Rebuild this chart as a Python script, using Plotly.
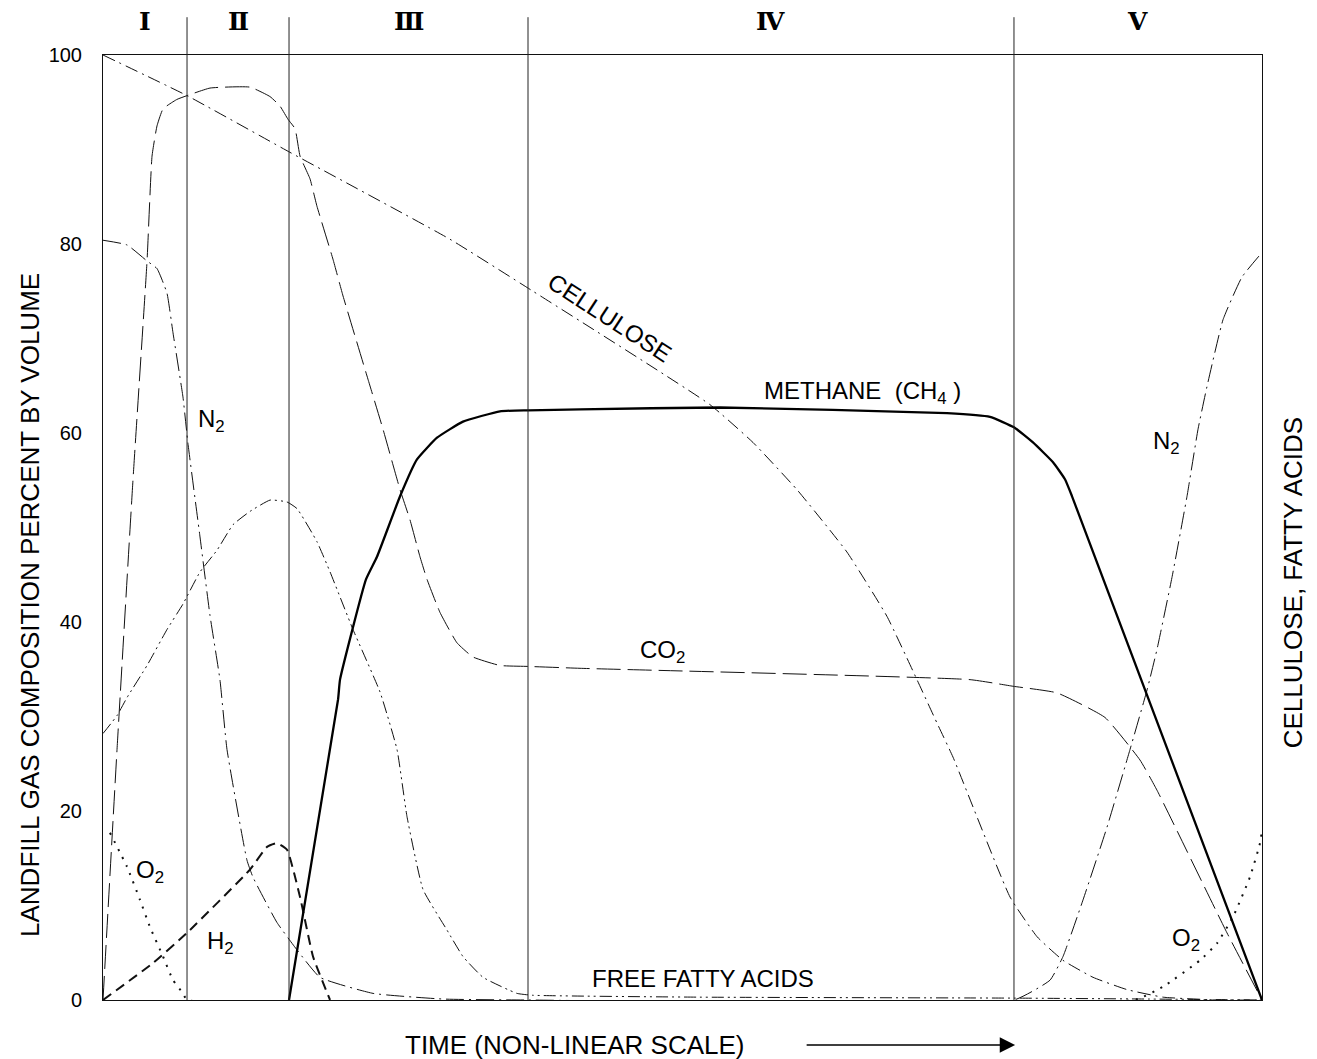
import plotly.graph_objects as go

# ---------------- data (time axis in arbitrary non-linear units 0..100) ----------------
phase_bounds = [7.25, 16.05, 36.67, 78.60]
phase_names = ["Ⅰ", "Ⅱ", "Ⅲ", "Ⅳ", "Ⅴ"]
y_ticks = [0, 20, 40, 60, 80, 100]

methane_x = [16.05, 20.28, 20.45, 22.69, 23.64, 25.63, 27.09, 28.82, 31.06, 34.25, 36.67,
             41.16, 53.24, 72.82, 76.53, 78.60, 80.24, 81.97, 83.00, 83.61, 100.0]
methane_y = [0.0, 31.8, 33.9, 44.5, 46.9, 53.3, 57.2, 59.5, 61.2, 62.3, 62.4,
             62.5, 62.7, 62.1, 61.7, 60.6, 59.0, 56.9, 55.1, 53.3, 0.0]

co2_x = [0.0, 1.21, 2.59, 3.80, 4.23, 4.66, 5.18, 6.38, 7.25, 9.23, 12.68, 14.41, 15.27,
         15.96, 16.57, 17.00, 17.86, 18.46, 19.84, 20.71, 22.86, 24.16, 25.63, 26.49, 27.35,
         27.96, 29.08, 30.54, 31.92, 34.25, 36.67, 41.16, 74.81, 78.52, 82.31, 86.45, 89.47,
         90.94, 96.98, 100.0]
co2_y = [0.0, 26.5, 55.1, 78.2, 89.3, 92.5, 94.3, 95.3, 95.7, 96.5, 96.6, 95.6, 94.6,
         93.2, 92.2, 89.3, 86.9, 84.0, 78.4, 74.5, 65.7, 60.4, 54.0, 50.8, 46.9,
         44.5, 41.0, 37.8, 36.3, 35.4, 35.3, 35.1, 33.9, 33.2, 32.5, 29.9, 25.4,
         22.2, 7.1, 0.0]

n2_x = [0.0, 2.07, 3.80, 4.66, 5.52, 6.04, 6.90, 7.33, 8.37, 9.23, 10.09, 10.70, 12.42,
        12.94, 15.01, 16.74, 18.72, 23.30, 29.34, 36.67, 78.60, 81.71, 82.83, 84.56, 86.63,
        88.61, 90.08, 90.94, 92.23, 93.53, 94.48, 95.25, 96.64, 98.27, 100.0]
n2_y = [80.4, 79.9, 78.2, 77.4, 74.8, 70.6, 63.8, 58.9, 49.0, 40.7, 33.9, 26.5, 14.8,
        13.0, 8.2, 5.3, 2.4, 0.7, 0.1, 0.0, 0.0, 2.1, 4.6, 10.6, 18.3,
        26.5, 32.8, 37.1, 44.7, 53.3, 60.4, 64.9, 72.0, 76.5, 79.1]

o2_x = [0.60, 2.07, 3.19, 4.06, 5.18, 6.04, 6.90, 7.25, 89.0, 91.46, 94.65, 96.12, 97.50,
        98.96, 99.83, 100.0]
o2_y = [17.7, 14.1, 10.6, 7.7, 4.6, 2.1, 0.7, 0.0, 0.0, 1.4, 4.2, 6.0, 8.8,
        13.0, 16.6, 18.0]

h2_x = [0.0, 4.31, 7.25, 12.68, 14.15, 15.01, 15.88, 17.00, 18.12, 19.59]
h2_y = [0.0, 3.9, 7.1, 13.8, 16.2, 16.6, 15.9, 10.9, 4.6, 0.0]

cellulose_x = [0.0, 7.25, 16.13, 29.94, 37.10, 52.37, 56.08, 59.88, 64.19, 67.64, 70.23,
               71.96, 73.34, 78.26, 80.59, 82.83, 85.42, 88.35, 91.46, 96.12, 100.0]
cellulose_y = [100.0, 95.7, 89.7, 80.5, 75.0, 63.0, 59.0, 54.0, 47.4, 40.6, 33.9,
               29.3, 25.7, 10.9, 6.7, 4.2, 2.4, 1.1, 0.3, 0.0, 0.0]

ffa_x = [0.0, 1.21, 2.07, 3.80, 5.52, 6.90, 8.37, 9.84, 11.22, 12.68, 14.41, 15.88, 16.74,
         18.46, 19.59, 21.57, 23.90, 25.37, 26.23, 27.61, 29.68, 31.06, 32.79, 35.72, 37.10,
         51.51, 78.60, 90.3, 100.0]
ffa_y = [28.2, 30.1, 32.0, 35.4, 39.2, 41.9, 45.3, 47.6, 50.3, 51.7, 52.9, 52.7, 52.0,
         48.5, 45.3, 39.2, 32.6, 26.5, 19.4, 11.7, 7.4, 4.6, 2.4, 0.7, 0.5,
         0.3, 0.2, 0.1, 0.0]

# curve labels
label_text = ["N<sub>2</sub>", "O<sub>2</sub>", "H<sub>2</sub>", "CO<sub>2</sub>", "CELLULOSE",
              "METHANE\u00a0\u00a0(CH<sub>4</sub>\u00a0)", "FREE FATTY ACIDS", "N<sub>2</sub>",
              "O<sub>2</sub>"]
label_x = [9.40, 4.06, 10.18, 48.3, 43.7, 65.5, 51.8, 91.8, 93.4]
label_y = [61.3, 13.6, 6.1, 36.9, 72.2, 64.3, 2.3, 59.0, 6.4]
label_angle = [0, 0, 0, 0, 33, 0, 0, 0, 0]

# ---------------- figure ----------------
SANS = "Liberation Sans, Arial, sans-serif"
fig = go.Figure()


def add_line(x, y, dash, width=1.0, color="#111111"):
    fig.add_trace(go.Scatter(x=x, y=y, mode="lines", hoverinfo="skip",
                             line=dict(color=color, width=width, dash=dash, shape="spline",
                                       smoothing=0.4)))


add_line(cellulose_x, cellulose_y, "13px,5px,2px,5px")
add_line(ffa_x, ffa_y, "12px,4px,2px,4px,2px,4px")
add_line(co2_x, co2_y, "24px,7px")
add_line(n2_x, n2_y, "18px,5px,2px,5px")
add_line(o2_x, o2_y, "2px,7px", width=2.0)
add_line(h2_x, h2_y, "10px,6px", width=2.0)
fig.add_trace(go.Scatter(x=methane_x, y=methane_y, mode="lines", hoverinfo="skip",
                         line=dict(color="#000000", width=2.3, shape="spline", smoothing=0.4)))

# phase boundary lines (extend above the plot into the header strip)
for b in phase_bounds:
    fig.add_shape(type="line", xref="x", yref="paper", x0=b, x1=b, y0=0, y1=1.040,
                  line=dict(color="#222222", width=1))

edges = [0.0] + phase_bounds + [100.0]
for i, name in enumerate(phase_names):
    fig.add_annotation(x=(edges[i] + edges[i + 1]) / 2, y=1.035, xref="x", yref="paper",
                       xanchor="center", yanchor="middle",
                       text="<b>" + name + "</b>", showarrow=False,
                       font=dict(family="DejaVu Serif, Liberation Serif, serif", size=25,
                                 color="#000000"))

for t, x, y, a in zip(label_text, label_x, label_y, label_angle):
    fig.add_annotation(x=x, y=y, xref="x", yref="y", text=t, showarrow=False, textangle=a,
                       xanchor="center", yanchor="middle",
                       font=dict(family=SANS, size=24, color="#000000"))

# axis titles
fig.add_annotation(x=-0.063, y=0.418, xref="paper", yref="paper", textangle=-90,
                   xanchor="center", yanchor="middle",
                   text="LANDFILL GAS COMPOSITION PERCENT BY VOLUME", showarrow=False,
                   font=dict(family=SANS, size=26, color="#000000"))
fig.add_annotation(x=1.0267, y=0.442, xref="paper", yref="paper", textangle=-90,
                   xanchor="center", yanchor="middle",
                   text="CELLULOSE, FATTY ACIDS", showarrow=False,
                   font=dict(family=SANS, size=26, color="#000000"))
fig.add_annotation(x=0.407, y=-0.0476, xref="paper", yref="paper",
                   xanchor="center", yanchor="middle",
                   text="TIME (NON-LINEAR SCALE)", showarrow=False,
                   font=dict(family=SANS, size=26, color="#000000"))
fig.add_annotation(x=0.787, y=-0.0476, xref="paper", yref="paper", axref="pixel",
                   ayref="pixel", ax=-210, ay=0, text="", showarrow=True,
                   arrowhead=2, arrowsize=2.2, arrowwidth=1.4, arrowcolor="#000000")

fig.update_layout(
    width=1317, height=1059,
    margin=dict(l=103, r=55, t=55, b=59),
    paper_bgcolor="white", plot_bgcolor="white",
    showlegend=False,
    xaxis=dict(range=[0, 100], showgrid=False, zeroline=False, showticklabels=False,
               ticks="", showline=True, linecolor="#111111", linewidth=1, mirror=True),
    yaxis=dict(range=[0, 100], tickvals=y_ticks, showgrid=False, zeroline=False,
               ticks="", showline=True, linecolor="#111111", linewidth=1, mirror=True,
               ticklabelstandoff=16,
               tickfont=dict(family=SANS, size=20, color="#000000")),
)

# remove the browser's default body margin so the figure fills the window exactly
fig.write_html("out.html", config={"displayModeBar": False},
               post_script="document.body.style.margin='0';")
